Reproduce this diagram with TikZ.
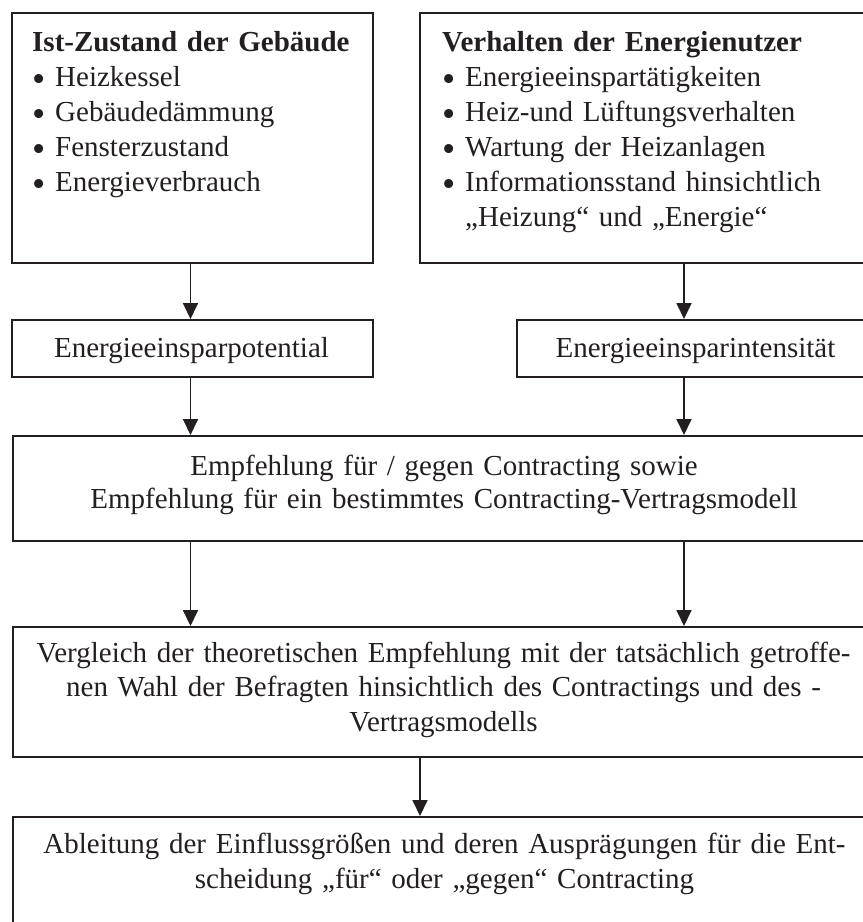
\documentclass[tikz,border=0pt]{standalone}
\usepackage{fontspec}
\setmainfont{Liberation Serif}
\usetikzlibrary{arrows.meta}

\definecolor{ink}{HTML}{231F20}

% bullet item with a fixed-width bullet column
\newcommand{\bitem}{\makebox[23pt][l]{\raisebox{-0.18em}{\scalebox{1.3}{\textbullet}}}}

\begin{document}
\begin{tikzpicture}[
  x=1pt, y=-1pt,
  font=\fontsize{29}{35}\selectfont,
  every node/.style={text=ink},
  box/.style={draw=ink, line width=2pt, anchor=north west, inner sep=0pt, minimum height=#1},
  lbl/.style={inner sep=0pt, anchor=base},
  arr/.style={draw=ink, line width=1.8pt, -{Triangle[width=15pt,length=16pt]}}
]
\useasboundingbox (0,0) rectangle (863,922);
\clip (0,0) rectangle (863,922);

% column positions of the connectors
\coordinate (colL) at (190.5,0);
\coordinate (colR) at (684,0);
\coordinate (colM) at (420,0);

% boxes
\node[box=250pt, minimum width=361pt] (b1) at (11,12) {};
\node[box=250pt, minimum width=457pt] (b2) at (419,12) {};
\node[box=57pt, minimum width=361pt] (pot) at (11,319) {};
\node[box=57pt, minimum width=360pt] (int) at (516,319) {};
\node[box=105pt, minimum width=864pt] (emp) at (12,435) {};
\node[box=130pt, minimum width=864pt] (ver) at (12,626) {};
\node[box=150pt, minimum width=864pt] (abl) at (12,816) {};

% texts
\node[lbl, anchor=base west, text width=335pt, align=left] (t1) at (32,51)
  {\textbf{Ist-Zustand der Gebäude}\\
   \bitem Heizkessel\\
   \bitem Gebäudedämmung\\
   \bitem Fensterzustand\\
   \bitem Energieverbrauch};
\node[lbl, anchor=base west, text width=420pt, align=left] (t2) at (442,51)
  {\textbf{Verhalten der Energienutzer}\\
   \bitem Energieeinspartätigkeiten\\
   \bitem Heiz-und Lüftungsverhalten\\
   \bitem Wartung der Heizanlagen\\
   \bitem Informationsstand hinsichtlich\\
   \hspace*{23pt}„Heizung“ und „Energie“};
\node[lbl] (tpot) at (191.5,357) {Energieeinsparpotential};
\node[lbl] (tint) at (695.5,357) {Energieeinsparintensität};
\node[lbl, text width=860pt, align=center, font=\fontsize{29}{33}\selectfont] (temp) at (444,475)
  {Empfehlung für / gegen Contracting sowie\\
   Empfehlung für ein bestimmtes Contracting-Vertragsmodell};
\node[lbl, text width=860pt, align=center, font=\fontsize{29}{34.5}\selectfont] (tver) at (443.5,662)
  {Vergleich der theoretischen Empfehlung mit der tatsächlich getroffe-\\
   nen Wahl der Befragten hinsichtlich des Contractings und des -\\
   Vertragsmodells};
\node[lbl, text width=860pt, align=center] (tabl) at (444.5,853)
  {Ableitung der Einflussgrößen und deren Ausprägungen für die Ent-\\
   scheidung „für“ oder „gegen“ Contracting};

% connectors
\draw[arr] (b1.south -| colL) -- (pot.north -| colL);
\draw[arr] (b2.south -| colR) -- (int.north -| colR);
\draw[arr] (pot.south -| colL) -- (emp.north -| colL);
\draw[arr] (int.south -| colR) -- (emp.north -| colR);
\draw[arr] (emp.south -| colL) -- (ver.north -| colL);
\draw[arr] (emp.south -| colR) -- (ver.north -| colR);
\draw[arr] (ver.south -| colM) -- (abl.north -| colM);
\end{tikzpicture}
\end{document}
